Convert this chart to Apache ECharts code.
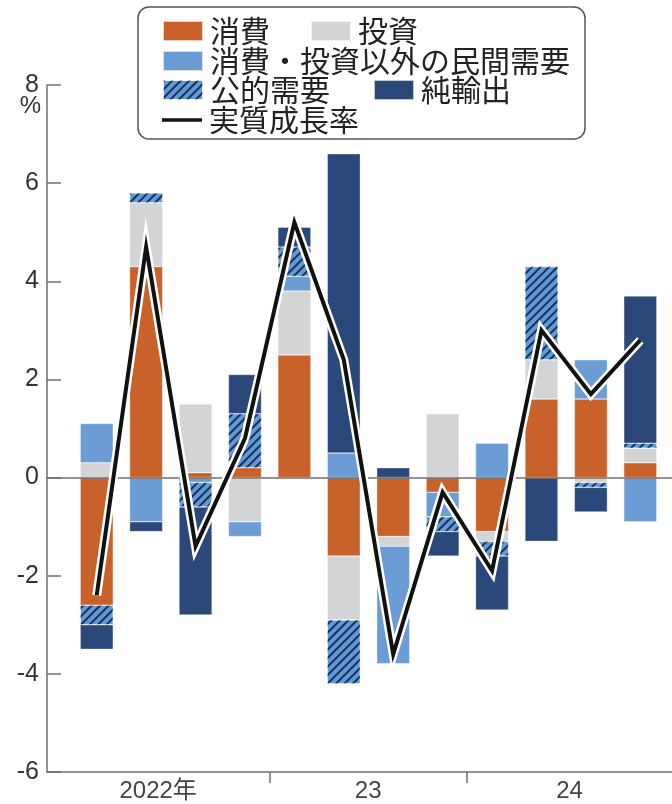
<!DOCTYPE html>
<html>
<head>
<meta charset="utf-8">
<script src="https://cdn.jsdelivr.net/npm/echarts@6/dist/echarts.min.js"></script>
<style>
  html, body { margin: 0; padding: 0; background: #fff; }
  #chart { width: 672px; height: 804px; }
</style>
</head>
<body>
<div id="chart"></div>
<script>
// Quarterly contributions to real GDP growth (annualised, %), 2022 Q1 – 2024 Q4
const quarters = ['2022Q1', '2022Q2', '2022Q3', '2022Q4',
                  '2023Q1', '2023Q2', '2023Q3', '2023Q4',
                  '2024Q1', '2024Q2', '2024Q3', '2024Q4'];

const consumption  = [-2.6, 4.3,  0.1,  0.2, 2.5, -1.6, -1.2, -0.3, -1.1, 1.6,  1.6,  0.3];
const investment   = [ 0.3, 1.3,  1.4, -0.9, 1.3, -1.3, -0.2,  1.3, -0.2, 0.8, -0.1,  0.3];
const otherPrivate = [ 0.8, -0.9, -0.1, -0.3, 0.3, 0.5, -2.4, -0.5,  0.7, 0.0,  0.8, -0.9];
const publicDemand = [-0.4, 0.2, -0.5,  1.1, 0.6, -1.3,  0.0, -0.3, -0.3, 1.9, -0.1,  0.1];
const netExports   = [-0.5, -0.2, -2.2, 0.8, 0.4,  6.1,  0.2, -0.5, -1.1, -1.3, -0.5, 3.0];
const realGrowth   = [-2.4, 4.7, -1.4,  0.8, 5.2,  2.4, -3.6, -0.3, -1.9, 3.0,  1.7,  2.8];

// Year labels and the quarter positions where one year ends and the next begins
const yearLabels = ['2022年', '23', '24'];
const yearBreaks = [3.5, 7.5];

// Value range of the outer axis, in quarter units (quarter i sits at i)
const outerMin = -1;
const outerMax = 11.65;
const yMin = -6, yMax = 8, yStep = 2;

// Year labels sit in the middle of each year's span on the outer axis
const spanEdges = [outerMin, ...yearBreaks, outerMax];
const yearLabelPos = yearLabels.map((_, i) => (spanEdges[i] + spanEdges[i + 1]) / 2);

const C = {
  consumption: '#C9612B',
  investment: '#D3D4D6',
  otherPrivate: '#6B9CD3',
  publicBg: '#5E9AD8',
  publicStripe: '#1B2F57',
  netExports: '#2A4879',
  axis: '#707070',
  text: '#333333'
};

const fontNum = "'Liberation Sans', Arial, 'Noto Sans CJK JP', sans-serif";
const fontJP = "'Noto Sans CJK JP', 'Noto Sans', sans-serif";

const gridTop = 85, gridBottom = 32;

const chart = echarts.init(document.getElementById('chart'), null, { renderer: 'canvas' });

function barSeries(name, data, color, extra) {
  return Object.assign({
    name: name,
    type: 'bar',
    xAxisIndex: 2,
    yAxisIndex: 1,
    stack: 'contrib',
    barWidth: 33,
    data: data,
    itemStyle: { color: color, borderColor: 'rgba(255,255,255,0.7)', borderWidth: 0.5 },
    emphasis: { disabled: true }
  }, extra || {});
}

const legendText = { fontSize: 30, fontFamily: fontJP, color: '#222', padding: [0, 0, 0, 2] };
function legendItem(name, left, top, icon, extra) {
  return Object.assign({
    data: [{ name: name, icon: icon }],
    left: left,
    top: top,
    padding: 0,
    itemWidth: 40,
    itemHeight: 20,
    itemGap: 0,
    selectedMode: false,
    textStyle: legendText
  }, extra || {});
}

const option = {
  animation: false,
  backgroundColor: '#fff',
  grid: [
    // frame with the visible axes
    { left: 47, right: 0, top: gridTop, bottom: gridBottom, outerBoundsMode: 'none', containLabel: false },
    // bars and growth line
    { left: 72, right: 7, top: gridTop, bottom: gridBottom, outerBoundsMode: 'none', containLabel: false }
  ],
  graphic: [{
    type: 'rect',
    z: 0,
    shape: { x: 138, y: 7, width: 447, height: 132, r: 11 },
    style: { fill: '#fff', stroke: '#555', lineWidth: 1.5 }
  }],
  legend: [
    legendItem('消費', 162, 16, 'rect'),
    legendItem('投資', 310, 16, 'rect'),
    legendItem('消費・投資以外の民間需要', 162, 46, 'rect'),
    legendItem('公的需要', 162, 75, 'rect'),
    legendItem('純輸出', 373, 75, 'rect'),
    legendItem('実質成長率', 162, 105, 'rect', {
      itemHeight: 3.5,
      itemStyle: { color: '#111', borderWidth: 0 }
    })
  ],
  xAxis: [
    {
      // bottom axis: year ticks and labels
      gridIndex: 0,
      type: 'value',
      min: outerMin,
      max: outerMax,
      position: 'bottom',
      axisLine: { onZero: false, lineStyle: { color: C.axis, width: 1.5 } },
      axisTick: {
        customValues: yearBreaks,
        length: 11,
        lineStyle: { color: C.axis, width: 1.5 }
      },
      axisLabel: {
        customValues: yearLabelPos,
        margin: 7,
        fontSize: 24,
        fontFamily: fontNum,
        color: '#444',
        formatter: function (v) {
          let best = 0;
          yearLabelPos.forEach((p, i) => { if (Math.abs(p - v) < Math.abs(yearLabelPos[best] - v)) best = i; });
          return yearLabels[best];
        }
      },
      splitLine: { show: false }
    },
    {
      // zero line
      gridIndex: 0,
      type: 'value',
      min: outerMin,
      max: outerMax,
      z: 5,
      axisLine: { onZero: true, lineStyle: { color: C.axis, width: 1.5 } },
      axisTick: { show: false },
      axisLabel: { show: false },
      splitLine: { show: false }
    },
    {
      gridIndex: 1,
      type: 'category',
      data: quarters,
      show: false
    }
  ],
  yAxis: [
    {
      gridIndex: 0,
      type: 'value',
      min: yMin,
      max: yMax,
      interval: yStep,
      name: '%',
      nameLocation: 'end',
      nameGap: -21,
      nameMoveOverlap: false,
      nameTextStyle: {
        fontSize: 24, fontFamily: fontNum, color: C.text,
        align: 'right', verticalAlign: 'middle', padding: [0, 6, 0, 0]
      },
      axisLine: { show: true, onZero: false, lineStyle: { color: C.axis, width: 1.5 } },
      axisTick: { show: true, inside: true, length: 14, lineStyle: { color: C.axis, width: 1.5 } },
      axisLabel: { margin: 8, fontSize: 25, fontFamily: fontNum, color: C.text },
      splitLine: { show: false }
    },
    {
      gridIndex: 1,
      type: 'value',
      min: yMin,
      max: yMax,
      show: false
    }
  ],
  series: [
    barSeries('消費', consumption, C.consumption),
    barSeries('投資', investment, C.investment),
    barSeries('消費・投資以外の民間需要', otherPrivate, C.otherPrivate),
    barSeries('公的需要', publicDemand, C.publicBg, {
      itemStyle: {
        color: C.publicBg,
        borderColor: 'rgba(255,255,255,0.7)',
        borderWidth: 0.5,
        decal: {
          symbol: 'rect',
          symbolSize: 1,
          dashArrayX: [1, 0],
          dashArrayY: [1.8, 3.4],
          rotation: -Math.PI / 4,
          color: C.publicStripe
        }
      }
    }),
    barSeries('純輸出', netExports, C.netExports),
    {
      // white halo under the growth line
      type: 'line',
      xAxisIndex: 2,
      yAxisIndex: 1,
      data: realGrowth,
      symbol: 'none',
      silent: true,
      z: 20,
      lineStyle: { color: '#fff', width: 9, join: 'miter' }
    },
    {
      name: '実質成長率',
      type: 'line',
      xAxisIndex: 2,
      yAxisIndex: 1,
      data: realGrowth,
      symbol: 'none',
      z: 21,
      lineStyle: { color: '#111', width: 4, join: 'miter' },
      itemStyle: { color: '#111' },
      emphasis: { disabled: true }
    }
  ]
};

chart.setOption(option);
</script>
</body>
</html>
